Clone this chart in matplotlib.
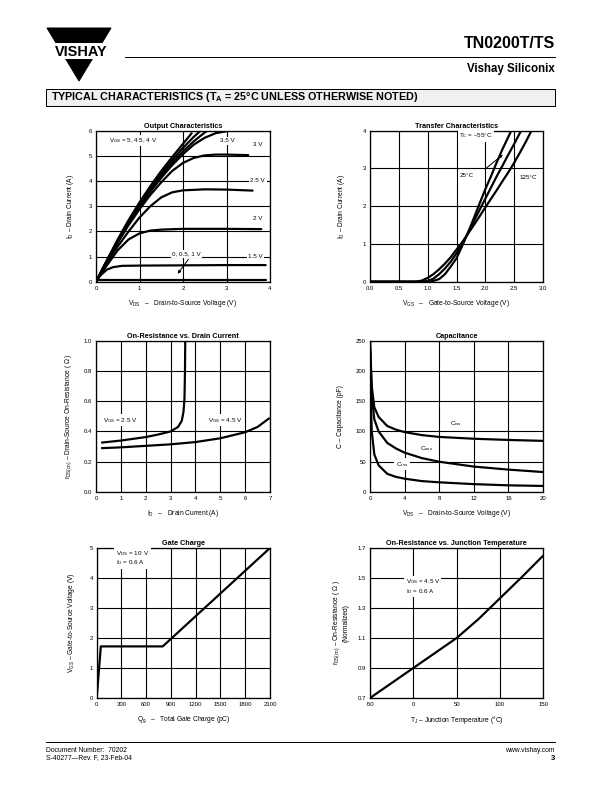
import numpy as np
import matplotlib
matplotlib.use("Agg")
import matplotlib.pyplot as plt
from matplotlib.patches import Polygon, Rectangle

plt.rcParams.update({
    "font.family": ["Liberation Sans", "DejaVu Sans"],
    "font.size": 6,
    "mathtext.fontset": "custom",
    "mathtext.rm": "Liberation Sans",
    "mathtext.it": "Liberation Sans:italic",
    "mathtext.bf": "Liberation Sans:bold",
    "axes.linewidth": 1.3,
})

W, H = 612, 792

# ── Output characteristics ───────────────────────────────────────────────
out_x_5v = [0, 0.25, 0.5, 0.75, 1.0, 1.25, 1.5, 1.75, 2.0, 2.2]
out_y_5v = [0, 0.85, 1.68, 2.45, 3.15, 3.8, 4.4, 4.95, 5.48, 5.9]
out_x_45v = [0, 0.25, 0.5, 0.75, 1.0, 1.25, 1.5, 1.75, 2.0, 2.25, 2.5]
out_y_45v = [0, 0.84, 1.65, 2.4, 3.08, 3.72, 4.3, 4.83, 5.32, 5.76, 6.15]
out_x_4v = [0, 0.25, 0.5, 0.75, 1.0, 1.25, 1.5, 1.75, 2.0, 2.25, 2.5, 2.75]
out_y_4v = [0, 0.82, 1.62, 2.36, 3.02, 3.63, 4.2, 4.72, 5.18, 5.58, 5.93, 6.2]
out_x_35v = [0, 0.25, 0.5, 0.75, 1.0, 1.25, 1.5, 1.75, 2.0, 2.25, 2.5, 2.75, 3.0]
out_y_35v = [0, 0.8, 1.58, 2.3, 2.97, 3.58, 4.13, 4.63, 5.07, 5.45, 5.72, 5.9, 5.98]
out_x_3v = [0, 0.25, 0.5, 0.75, 1.0, 1.25, 1.5, 1.75, 2.0, 2.25, 2.5, 2.75, 3.0, 3.5]
out_y_3v = [0, 0.8, 1.55, 2.25, 2.88, 3.45, 3.95, 4.4, 4.72, 4.92, 5.02, 5.05, 5.05, 5.03]
out_x_25v = [0, 0.25, 0.5, 0.75, 1.0, 1.25, 1.5, 1.75, 2.0, 2.5, 3.0, 3.6]
out_y_25v = [0, 0.75, 1.4, 2.0, 2.55, 3.0, 3.35, 3.55, 3.63, 3.67, 3.66, 3.62]
out_x_2v = [0, 0.25, 0.5, 0.75, 1.0, 1.25, 1.5, 2.0, 2.5, 3.0, 3.8]
out_y_2v = [0, 0.65, 1.25, 1.68, 1.92, 2.03, 2.07, 2.1, 2.1, 2.1, 2.09]
out_x_15v = [0, 0.1, 0.25, 0.4, 0.6, 1.0, 2.0, 3.0, 3.9]
out_y_15v = [0, 0.25, 0.48, 0.58, 0.63, 0.64, 0.65, 0.66, 0.66]
out_x_1v = [0, 3.9]
out_y_1v = [0.06, 0.06]

# ── Transfer characteristics ─────────────────────────────────────────────
tr_x_m55 = [0.0, 1.0, 1.1, 1.2, 1.3, 1.4, 1.5, 1.6, 1.7, 1.8, 1.9, 2.0, 2.1, 2.2, 2.3, 2.45]
tr_y_m55 = [0.0, 0.0, 0.02, 0.07, 0.2, 0.4, 0.62, 0.95, 1.3, 1.68, 2.07, 2.45, 2.8, 3.17, 3.52, 4.0]
tr_x_25 = [0.0, 0.9, 1.0, 1.1, 1.2, 1.3, 1.4, 1.5, 1.6, 1.7, 1.8, 1.9, 2.0, 2.1, 2.2, 2.3, 2.4, 2.5, 2.62]
tr_y_25 = [0.0, 0.0, 0.02, 0.08, 0.2, 0.35, 0.53, 0.75, 1.0, 1.3, 1.6, 1.9, 2.2, 2.5, 2.8, 3.08, 3.37, 3.65, 4.0]
tr_x_125 = [0.0, 0.8, 0.9, 1.0, 1.1, 1.2, 1.3, 1.4, 1.5, 1.6, 1.7, 1.8, 1.9, 2.0, 2.1, 2.2, 2.3, 2.4, 2.5, 2.6, 2.7, 2.8]
tr_y_125 = [0.0, 0.0, 0.03, 0.1, 0.2, 0.33, 0.48, 0.65, 0.85, 1.05, 1.27, 1.5, 1.73, 1.97, 2.2, 2.43, 2.67, 2.9, 3.15, 3.42, 3.7, 4.0]

# ── On-resistance vs drain current ───────────────────────────────────────
ron_x_25v = [0.25, 1.0, 2.0, 2.5, 3.0, 3.3, 3.45, 3.52, 3.56, 3.58, 3.59]
ron_y_25v = [0.327, 0.34, 0.363, 0.38, 0.40, 0.43, 0.47, 0.53, 0.62, 0.80, 1.0]
ron_x_45v = [0.25, 1.0, 2.0, 3.0, 4.0, 5.0, 6.0, 6.5, 6.95]
ron_y_45v = [0.29, 0.295, 0.305, 0.315, 0.33, 0.355, 0.395, 0.43, 0.485]

# ── Capacitance ──────────────────────────────────────────────────────────
cap_v = [0, 0.2, 0.5, 1, 2, 3, 4, 6, 8, 12, 16, 20]
cap_ciss = [250, 175, 140, 124, 109, 103, 99, 94, 91, 88, 86, 84.5]
cap_coss = [250, 160, 120, 100, 81, 72, 65, 56, 50, 42, 37, 33]
cap_crss = [200, 100, 62, 44, 30, 25, 22, 18, 16, 13, 11, 10]

# ── Gate charge ──────────────────────────────────────────────────────────
qg_pc = [0, 50, 800, 2100]
qg_vgs = [0, 1.72, 1.72, 5.0]

# ── On-resistance vs junction temperature ────────────────────────────────
tj_c = [-50, -25, 0, 25, 50, 75, 100, 125, 150]
ron_norm = [0.70, 0.80, 0.90, 1.0, 1.10, 1.225, 1.365, 1.505, 1.65]

fig = plt.figure(figsize=(8.5, 11), dpi=72)
fig.patch.set_facecolor("white")

LBL = 6.6     # axis label size
ANN = 6.3     # in-plot annotation size


def px_axes(x0, y0, x1, y1):
    return fig.add_axes([x0 / W, 1 - y1 / H, (x1 - x0) / W, (y1 - y0) / H])


def style(ax, title, xlabel, ylabel, xticks, yticks, xfmt, yfmt, ylabelpad=14):
    ax.set_xlim(xticks[0], xticks[-1])
    ax.set_ylim(yticks[0], yticks[-1])
    ax.set_xticks(xticks)
    ax.set_yticks(yticks)
    ax.set_xticklabels([xfmt.format(t) for t in xticks])
    ax.set_yticklabels([yfmt.format(t) for t in yticks])
    ax.tick_params(length=0, labelsize=6, pad=4)
    ax.grid(True, color="black", lw=1.1)
    ax.set_axisbelow(True)
    ax.set_title(title, fontsize=7.3, fontweight="bold", pad=3)
    ax.set_xlabel(xlabel, fontsize=LBL, labelpad=7)
    ax.set_ylabel(ylabel, fontsize=LBL, labelpad=ylabelpad)


LW = 2.2
BOX = dict(facecolor="white", edgecolor="none", pad=1.5)

# Output Characteristics
ax = px_axes(96, 130.7, 270, 281.7)
for xs, ys in [(out_x_5v, out_y_5v), (out_x_45v, out_y_45v), (out_x_4v, out_y_4v),
               (out_x_35v, out_y_35v), (out_x_3v, out_y_3v), (out_x_25v, out_y_25v),
               (out_x_2v, out_y_2v), (out_x_15v, out_y_15v), (out_x_1v, out_y_1v)]:
    ax.plot(xs, ys, color="black", lw=LW, solid_capstyle="round")
style(ax, "Output Characteristics", r"V$_{\mathregular{DS}}$   –   Drain-to-Source Voltage (V)",
      r"I$_{\mathregular{D}}$ – Drain Current (A)", [0, 1, 2, 3, 4], [0, 1, 2, 3, 4, 5, 6], "{:g}", "{:g}",
      ylabelpad=13)
ax.text(0.3, 5.55, r"V$_{\mathregular{GS}}$ = 5, 4.5, 4 V", fontsize=ANN, bbox=BOX)
ax.text(2.85, 5.55, "3.5 V", fontsize=ANN, bbox=BOX)
ax.text(3.6, 5.4, "3 V", fontsize=ANN, bbox=BOX)
ax.text(3.55, 3.95, "2.5 V", fontsize=ANN, bbox=BOX)
ax.text(3.6, 2.45, "2 V", fontsize=ANN, bbox=BOX)
ax.text(3.5, 0.95, "1.5 V", fontsize=ANN, bbox=BOX)
ax.text(1.75, 1.05, "0, 0.5, 1 V", fontsize=ANN, bbox=BOX)
ax.annotate("", xy=(1.85, 0.25), xytext=(2.15, 0.95),
            arrowprops=dict(arrowstyle="-|>", color="black", lw=1.0, mutation_scale=6))

# Transfer Characteristics
ax = px_axes(370, 130.7, 543, 281.7)
for xs, ys in [(tr_x_m55, tr_y_m55), (tr_x_25, tr_y_25), (tr_x_125, tr_y_125)]:
    ax.plot(xs, ys, color="black", lw=LW)
style(ax, "Transfer Characteristics", r"V$_{\mathregular{GS}}$   –   Gate-to-Source Voltage (V)",
      r"I$_{\mathregular{D}}$ – Drain Current (A)", [0, 0.5, 1.0, 1.5, 2.0, 2.5, 3.0], [0, 1, 2, 3, 4],
      "{:.1f}", "{:g}", ylabelpad=16)
ax.text(1.55, 3.82, r"T$_{\mathregular{C}}$ = –55°C", fontsize=ANN, bbox=BOX)
ax.text(1.55, 2.78, "25°C", fontsize=ANN, bbox=BOX)
ax.text(2.6, 2.72, "125°C", fontsize=ANN, bbox=BOX)
ax.annotate("", xy=(2.33, 3.4), xytext=(1.97, 2.95),
            arrowprops=dict(arrowstyle="-|>", color="black", lw=1.0, mutation_scale=6))

# On-Resistance vs. Drain Current
ax = px_axes(96, 340.7, 270, 492)
ax.plot(ron_x_25v, ron_y_25v, color="black", lw=LW)
ax.plot(ron_x_45v, ron_y_45v, color="black", lw=LW)
style(ax, "On-Resistance vs. Drain Current", r"I$_{\mathregular{D}}$   –   Drain Current (A)",
      r"r$_{\mathregular{DS(on)}}$ – Drain-Source On-Resistance ( Ω )",
      [0, 1, 2, 3, 4, 5, 6, 7], [0, 0.2, 0.4, 0.6, 0.8, 1.0], "{:g}", "{:.1f}", ylabelpad=10)
ax.text(0.3, 0.465, r"V$_{\mathregular{GS}}$ = 2.5 V", fontsize=ANN, bbox=BOX)
ax.text(4.5, 0.465, r"V$_{\mathregular{GS}}$ = 4.5 V", fontsize=ANN, bbox=BOX)

# Capacitance
ax = px_axes(370, 340.7, 543, 492)
for ys in [cap_ciss, cap_coss, cap_crss]:
    ax.plot(cap_v, ys, color="black", lw=LW)
style(ax, "Capacitance", r"V$_{\mathregular{DS}}$   –   Drain-to-Source Voltage (V)",
      "C – Capacitance (pF)", [0, 4, 8, 12, 16, 20], [0, 50, 100, 150, 200, 250], "{:g}", "{:g}",
      ylabelpad=12)
ax.text(9.3, 110, r"C$_{\mathregular{iss}}$", fontsize=ANN, bbox=BOX)
ax.text(5.8, 70, r"C$_{\mathregular{oss}}$", fontsize=ANN, bbox=BOX)
ax.text(3.0, 43, r"C$_{\mathregular{rss}}$", fontsize=ANN, bbox=BOX)

# Gate Charge
ax = px_axes(96.7, 548, 270, 698)
ax.plot(qg_pc, qg_vgs, color="black", lw=LW)
style(ax, "Gate Charge", r"Q$_{\mathregular{g}}$   –   Total Gate Charge (pC)",
      r"V$_{\mathregular{GS}}$ – Gate-to-Source Voltage (V)",
      [0, 300, 600, 900, 1200, 1500, 1800, 2100], [0, 1, 2, 3, 4, 5], "{:g}", "{:g}", ylabelpad=12)
ax.text(230, 4.45, r"V$_{\mathregular{DS}}$ = 10  V" + "\n" + r"I$_{\mathregular{D}}$ = 0.6 A",
        fontsize=ANN, bbox=BOX, linespacing=1.1)

# On-Resistance vs. Junction Temperature
ax = px_axes(370, 548, 543.3, 698)
ax.plot(tj_c, ron_norm, color="black", lw=LW)
style(ax, "On-Resistance vs. Junction Temperature", r"T$_{\mathregular{J}}$ – Junction Temperature (°C)",
      r"r$_{\mathregular{DS(on)}}$ – On-Resistance ( Ω )" + "\n(Normalized)",
      [-50, 0, 50, 100, 150], [0.7, 0.9, 1.1, 1.3, 1.5, 1.7], "{:g}", "{:.1f}", ylabelpad=8)
ax.text(-9, 1.40, r"V$_{\mathregular{GS}}$ = 4.5 V" + "\n" + r"I$_{\mathregular{D}}$ = 0.6 A",
        fontsize=ANN, bbox=BOX, linespacing=1.1)

# ── Page header ──────────────────────────────────────────────────────────
page = fig.add_axes([0, 0, 1, 1], zorder=-1)
page.set_xlim(0, W)
page.set_ylim(H, 0)
page.axis("off")

page.add_patch(Polygon([[47, 28], [111, 28], [79, 81]], closed=True, color="black"))
page.add_patch(Rectangle((44, 43.0), 72, 14.5, color="white"))
page.text(81, 56, "VISHAY", fontsize=14.5, fontweight="bold", ha="center", va="baseline")
page.plot([125, 555], [57, 57], color="black", lw=1.0)
page.text(555, 44, "TN0200T/TS", fontsize=16, fontweight="bold", ha="right", va="center")
page.text(555, 69, "Vishay Siliconix", fontsize=11.5, fontweight="bold", ha="right", va="center")

page.add_patch(Rectangle((46, 89), 509, 17, facecolor="#f0f0f0", edgecolor="black", lw=1.0))
page.text(51, 97.5, r"TYPICAL CHARACTERISTICS (T$_{\mathbf{A}}$ = 25°C UNLESS OTHERWISE NOTED)",
          fontsize=10.8, fontweight="bold", ha="left", va="center")

# ── Footer ───────────────────────────────────────────────────────────────
page.plot([46, 555], [742, 742], color="black", lw=1.0)
page.text(46, 750, "Document Number:  70202", fontsize=6.8, ha="left", va="center")
page.text(46, 758, "S-40277—Rev. F, 23-Feb-04", fontsize=6.8, ha="left", va="center")
page.text(555, 750, "www.vishay.com", fontsize=6.8, ha="right", va="center")
page.text(555, 759, "3", fontsize=7.5, fontweight="bold", ha="right", va="center")

fig.savefig("out.png", dpi=72, facecolor="white")
